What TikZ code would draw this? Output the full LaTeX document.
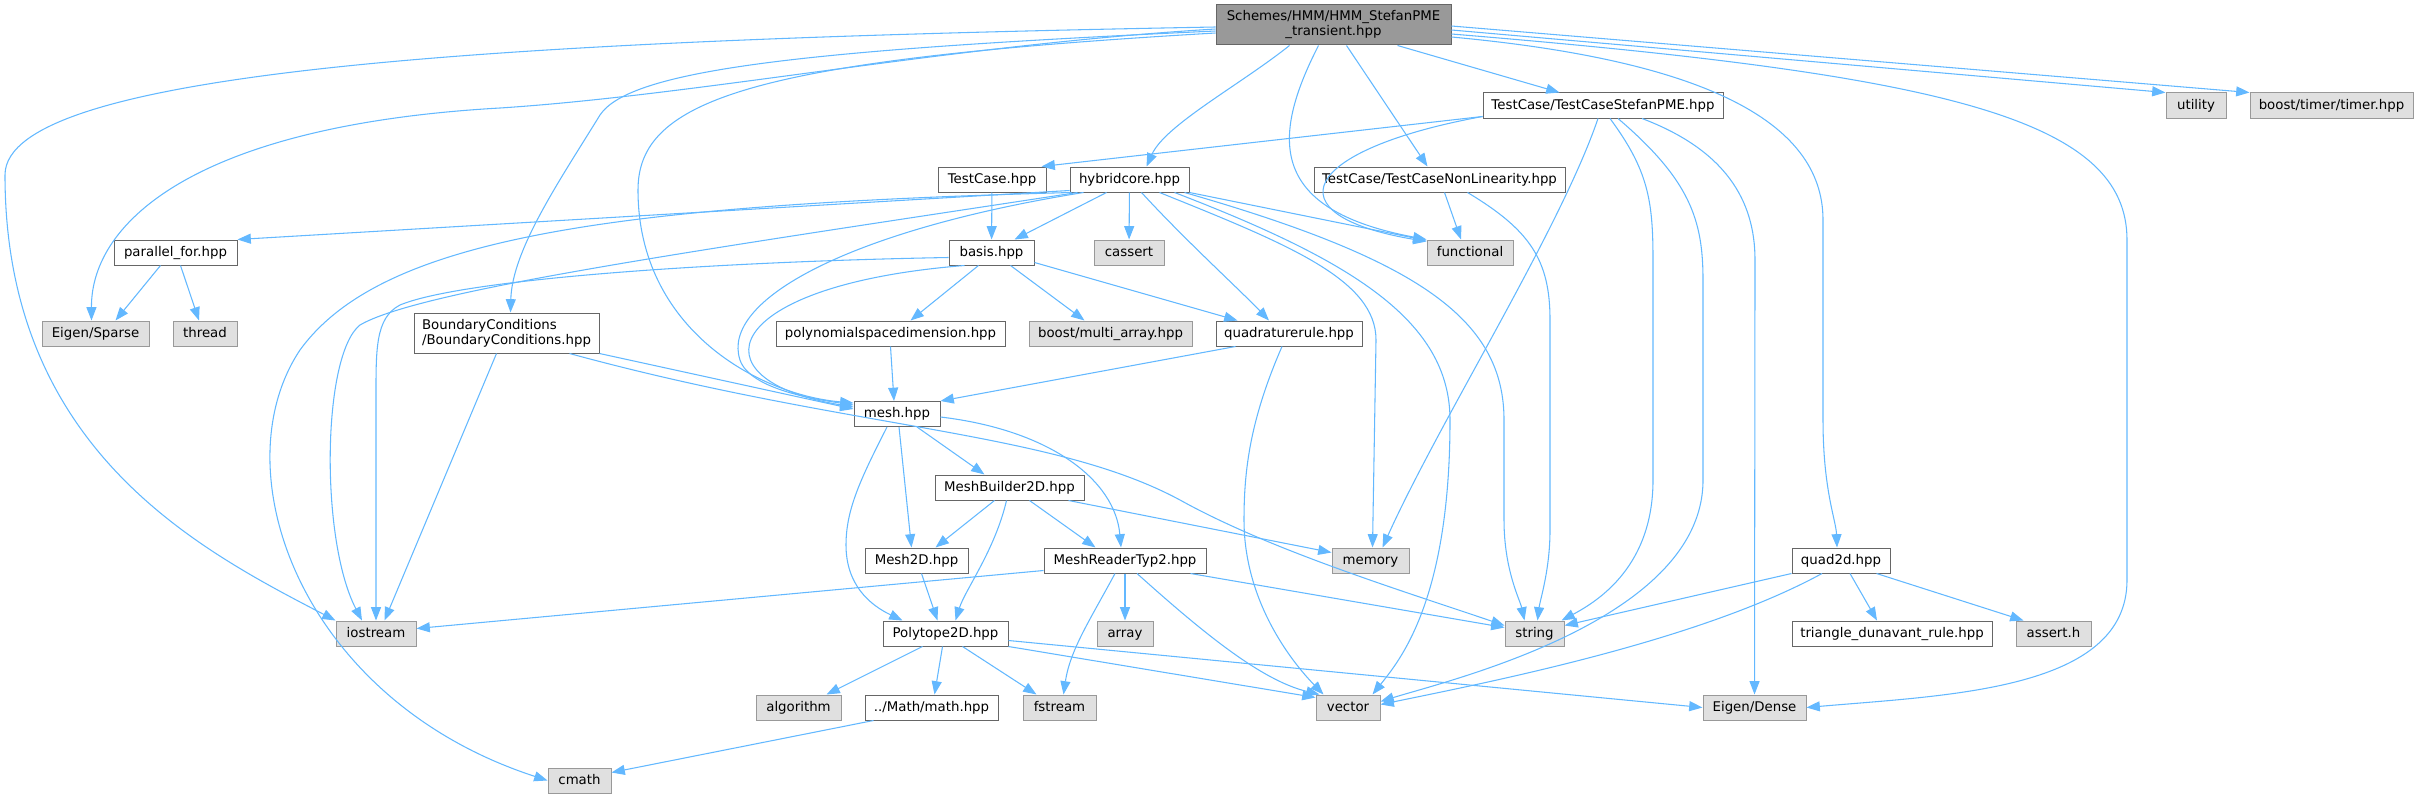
\documentclass[tikz,border=0pt]{standalone}
\usepackage{fontspec}
\newfontfamily\doxfont{DejaVu Sans}
\usetikzlibrary{calc,arrows.meta}
\definecolor{edgeblue}{HTML}{63B8FF}
\definecolor{frame}{HTML}{666666}
\definecolor{sysframe}{HTML}{999999}
\definecolor{sysfill}{HTML}{E0E0E0}
\definecolor{rootfill}{HTML}{999999}
\tikzset{
  hdr/.style={draw=frame,fill=white,line width=0.75pt,inner sep=0pt,
    minimum height=18.75pt,text height=7.4pt,text depth=2.1pt,
    font=\doxfont\fontsize{10}{11.25}\selectfont},
  syshdr/.style={hdr,draw=sysframe,fill=sysfill},
  twoline/.style={hdr,minimum height=30pt,text height={},text depth={}},
  roothdr/.style={twoline,fill=rootfill,align=center},
  dep/.style={draw=edgeblue,line width=0.8pt,-{Triangle[length=10pt,width=7.5pt]}}
}
\newcommand{\File}[5]{
  \node[#1,minimum width=#2*0.75pt] (#3) at (#4) {#5};
}

\begin{document}
\begin{tikzpicture}[x=0.75pt,y=-0.75pt]
  \useasboundingbox (0,0) rectangle (2419,799);
  % headers, one rank per row
  \File{roothdr}{235}{root}{1333.5,25}{Schemes/HMM/HMM\_StefanPME\\\_transient.hpp}
  \File{hdr}{240}{tcstefan}{1603,105.5}{TestCase/TestCaseStefanPME.hpp}
  \File{syshdr}{60}{utility}{2196,105.5}{utility}
  \File{syshdr}{163}{timer}{2331.5,105.5}{boost/timer/timer.hpp}
  \File{hdr}{108}{testcase}{992,179.5}{TestCase.hpp}
  \File{hdr}{119}{hybridcore}{1129.5,179.5}{hybridcore.hpp}
  \File{hdr}{251}{nonlin}{1439.5,179.5}{TestCase/TestCaseNonLinearity.hpp}
  \File{hdr}{123}{parallel}{175.5,252.5}{parallel\_for.hpp}
  \File{hdr}{85}{basis}{991.5,252.5}{basis.hpp}
  \File{syshdr}{70}{cassert}{1129,252.5}{cassert}
  \File{syshdr}{86}{functional}{1470,252.5}{functional}
  \File{syshdr}{107}{sparse}{95.5,333.5}{Eigen/Sparse}
  \File{syshdr}{64}{thread}{205,333.5}{thread}
  \File{twoline,align=left}{185}{bc}{506.5,333}{BoundaryConditions\\/BoundaryConditions.hpp}
  \File{hdr}{229}{polydim}{890.5,333.5}{polynomialspacedimension.hpp}
  \File{syshdr}{163}{multiarray}{1110.5,333.5}{boost/multi\_array.hpp}
  \File{hdr}{146}{quadrule}{1289,333.5}{quadraturerule.hpp}
  \File{hdr}{86}{mesh}{897,414}{mesh.hpp}
  \File{hdr}{149}{builder}{1009.5,487.5}{MeshBuilder2D.hpp}
  \File{hdr}{103}{mesh2d}{916.5,560.5}{Mesh2D.hpp}
  \File{hdr}{162}{reader}{1125,560.5}{MeshReaderTyp2.hpp}
  \File{syshdr}{77}{memory}{1370.5,560.5}{memory}
  \File{hdr}{98}{quad2d}{1841,560.5}{quad2d.hpp}
  \File{syshdr}{80}{iostream}{376,633.5}{iostream}
  \File{hdr}{125}{polytope}{945.5,633.5}{Polytope2D.hpp}
  \File{syshdr}{56}{array}{1125,633.5}{array}
  \File{syshdr}{59}{string}{1534.5,633.5}{string}
  \File{hdr}{200}{triangle}{1892,633.5}{triangle\_dunavant\_rule.hpp}
  \File{syshdr}{75}{asserth}{2053.5,633.5}{assert.h}
  \File{syshdr}{85}{algorithm}{798.5,707.5}{algorithm}
  \File{hdr}{133}{math}{931.5,707.5}{../Math/math.hpp}
  \File{syshdr}{73}{fstream}{1059.5,707.5}{fstream}
  \File{syshdr}{64}{vector}{1348,707.5}{vector}
  \File{syshdr}{103}{dense}{1754.5,707.5}{Eigen/Dense}
  \File{syshdr}{63}{cmath}{579.5,780.5}{cmath}

  % root
  \draw[dep] ($(root.west)+(0,2)$) .. controls (500,40) and (5,70) .. (5,175)
    .. controls (5,450) and (200,550) .. (iostream.north west);
  \draw[dep] ($(root.west)+(0,4)$) .. controls (950,45) and (700,95) .. (500,108)
    .. controls (200,125) and (91,220) .. ($(sparse.north)+(-4,0)$);
  \draw[dep] ($(root.west)+(0,6)$) .. controls (800,50) and (630,70) .. (600,115)
    .. controls (560,180) and (512,250) .. ($(bc.north)+(4,0)$);
  \draw[dep] ($(root.west)+(0,8)$) .. controls (750,60) and (638,100) .. (638,190)
    .. controls (638,330) and (760,395) .. ($(mesh.north west)+(0,2)$);
  \draw[dep] ($(root.south)+(-44,0)$) .. controls (1240,85) and (1165,125) .. ($(hybridcore.north)+(17,0)$);
  \draw[dep] ($(root.south)+(-15,0)$) .. controls (1270,140) and (1270,210) .. (functional.north west);
  \draw[dep] ($(root.south)+(13,0)$) -- ($(nonlin.north)+(-12,0)$);
  \draw[dep] ($(root.south east)+(-54,0)$) -- ($(tcstefan.north west)+(77,0)$);
  \draw[dep] ($(root.east)+(0,5)$) -- (utility.north west);
  \draw[dep] ($(root.east)+(0,1)$) -- (timer.north west);
  \draw[dep] ($(root.east)+(0,12)$) .. controls (1700,60) and (1823,120) .. (1823,220)
    -- (1823,420) .. controls (1823,490) and (1836,520) .. ($(quad2d.north)+(-4,0)$);
  \draw[dep] ($(root.east)+(0,9)$) .. controls (1950,75) and (2127,120) .. (2127,240)
    -- (2127,580) .. controls (2127,690) and (1950,695) .. (dense.east);

  % TestCaseStefanPME
  \draw[dep] ($(tcstefan.west)+(0,11)$) -- ($(testcase.north east)+(-5,0)$);
  \draw[dep] ($(tcstefan.west)+(0,11)$) .. controls (1300,150) and (1270,215) .. ($(functional.north west)+(0,2)$);
  \draw[dep] ($(tcstefan.south)+(-5,0)$) .. controls (1560,230) and (1440,420) .. ($(memory.north)+(12,0)$);
  \draw[dep] ($(tcstefan.south)+(7,0)$) .. controls (1648,170) and (1653,200) .. (1653,260)
    -- (1653,480) .. controls (1653,565) and (1600,600) .. ($(string.north east)+(-3,0)$);
  \draw[dep] ($(tcstefan.south)+(15,0)$) .. controls (1690,180) and (1703,220) .. (1703,280)
    -- (1703,480) .. controls (1703,620) and (1450,680) .. ($(vector.east)+(0,-6)$);
  \draw[dep] ($(tcstefan.south)+(39,0)$) .. controls (1725,150) and (1755,200) .. (1755,260) -- (dense.north);
  \draw[dep] (testcase) -- (basis);

  % hybridcore
  \draw[dep] ($(hybridcore.south west)+(0,-2)$) -- (parallel.north east);
  \draw[dep] ($(hybridcore.south west)+(2,0)$) .. controls (600,205) and (380,240) .. (300,350)
    .. controls (220,470) and (300,700) .. (cmath.west);
  \draw[dep] ($(hybridcore.south west)+(8,0)$) .. controls (700,250) and (420,290) .. (360,325)
    .. controls (322,355) and (320,540) .. ($(iostream.north)+(-14,0)$);
  \draw[dep] ($(hybridcore.south west)+(14,0)$) .. controls (850,230) and (720,300) .. (740,360)
    .. controls (750,390) and (820,400) .. ($(mesh.north west)+(0,4)$);
  \draw[dep] ($(hybridcore.south)+(-23,0)$) -- ($(basis.north east)+(-20,0)$);
  \draw[dep] (hybridcore) -- (cassert);
  \draw[dep] ($(hybridcore.south)+(12,0)$) .. controls (1185,240) and (1240,290) .. ($(quadrule.north)+(-20,0)$);
  \draw[dep] ($(hybridcore.south)+(30,0)$) .. controls (1290,245) and (1376,280) .. (1376,340)
    -- ($(memory.north)+(2,0)$);
  \draw[dep] ($(hybridcore.south east)+(-15,0)$) .. controls (1350,260) and (1450,320) .. (1450,420)
    .. controls (1450,600) and (1400,660) .. ($(vector.north east)+(-8,0)$);
  \draw[dep] ($(hybridcore.south east)+(-5,0)$) .. controls (1420,260) and (1504,320) .. (1504,420)
    -- (1504,520) .. controls (1504,570) and (1520,600) .. ($(string.north)+(-10,0)$);
  \draw[dep] (hybridcore.south east) -- ($(functional.north west)+(0,1)$);

  % TestCaseNonLinearity
  \draw[dep] ($(nonlin.south)+(5,0)$) -- ($(functional.north)+(-9,0)$);
  \draw[dep] ($(nonlin.south)+(28,0)$) .. controls (1530,230) and (1550,260) .. (1550,320)
    -- (1550,530) .. controls (1550,570) and (1540,600) .. ($(string.north)+(3,0)$);

  % basis, parallel_for, BoundaryConditions
  \draw[dep] ($(basis.west)+(0,5)$) .. controls (700,262) and (460,280) .. (400,305)
    .. controls (375,318) and (376,350) .. (376,400) -- (iostream.north);
  \draw[dep] ($(basis.south west)+(16,0)$) .. controls (720,285) and (690,380) .. ($(mesh.north west)+(0,6)$);
  \draw[dep] ($(basis.south)+(-13,0)$) -- ($(polydim.north)+(20,0)$);
  \draw[dep] ($(basis.south east)+(-24,0)$) -- ($(multiarray.north)+(-26,0)$);
  \draw[dep] ($(basis.south east)+(0,-3)$) -- ($(quadrule.north west)+(22,0)$);
  \draw[dep] ($(parallel.south)+(-15,0)$) -- ($(sparse.north)+(20,0)$);
  \draw[dep] ($(parallel.south)+(5,0)$) -- ($(thread.north)+(-6,0)$);
  \draw[dep] ($(bc.south)+(-10,0)$) -- ($(iostream.north east)+(-32,0)$);
  \draw[dep] (bc.south east) -- ($(mesh.north west)+(0,8)$);
  \draw[dep] ($(bc.south east)+(-30,0)$) .. controls (850,430) and (1050,430) .. (1180,500)
    .. controls (1270,550) and (1400,590) .. ($(string.north west)+(0,5)$);
  \draw[dep] (polydim.south) -- ($(mesh.north)+(-3,0)$);
  \draw[dep] ($(quadrule.south west)+(20,0)$) -- (mesh.north east);
  \draw[dep] ($(quadrule.south)+(-7,0)$) .. controls (1250,420) and (1244,470) .. (1244,520)
    .. controls (1244,600) and (1290,660) .. ($(vector.north west)+(8,0)$);

  % mesh and friends
  \draw[dep] ($(mesh.south)+(20,0)$) -- ($(builder.north)+(-25,0)$);
  \draw[dep] ($(mesh.south)+(2,0)$) -- ($(mesh2d.north)+(-5,0)$);
  \draw[dep] ($(mesh.south)+(-10,0)$) .. controls (860,480) and (846,510) .. (846,545)
    .. controls (846,585) and (870,605) .. ($(polytope.north west)+(20,0)$);
  \draw[dep] ($(mesh.east)+(0,3)$) .. controls (1050,430) and (1115,480) .. ($(reader.north)+(-4,0)$);
  \draw[dep] ($(builder.south)+(-15,0)$) -- ($(mesh2d.north east)+(-33,0)$);
  \draw[dep] ($(builder.south)+(-3,0)$) .. controls (995,550) and (965,590) .. ($(polytope.north)+(10,0)$);
  \draw[dep] ($(builder.south)+(20,0)$) -- ($(reader.north west)+(52,0)$);
  \draw[dep] ($(builder.south east)+(-16,0)$) -- ($(memory.west)+(0,-8)$);
  \draw[dep] ($(mesh2d.south)+(5,0)$) -- ($(polytope.north)+(-8,0)$);

  % MeshReaderTyp2
  \draw[dep] ($(reader.west)+(0,10)$) -- ($(iostream.east)+(0,-5)$);
  \draw[dep] (reader) -- (array);
  \draw[dep] ($(reader.south)+(-10,0)$) .. controls (1090,620) and (1070,650) .. ($(fstream.north)+(4,0)$);
  \draw[dep] ($(reader.south)+(12,0)$) .. controls (1200,630) and (1260,680) .. ($(vector.north west)+(4,0)$);
  \draw[dep] ($(reader.south east)+(-16,0)$) -- ($(string.west)+(0,-6)$);

  % Polytope2D, math, quad2d
  \draw[dep] ($(polytope.south)+(-23,0)$) -- ($(algorithm.north east)+(-15,0)$);
  \draw[dep] ($(polytope.south)+(-3,0)$) -- ($(math.north)+(3,0)$);
  \draw[dep] ($(polytope.south)+(17,0)$) -- ($(fstream.north west)+(14,0)$);
  \draw[dep] (polytope.south east) -- ($(vector.west)+(0,-10)$);
  \draw[dep] ($(polytope.east)+(0,7)$) -- (dense.west);
  \draw[dep] ($(math.south west)+(9,0)$) -- ($(cmath.east)+(0,-8)$);
  \draw[dep] (quad2d.south west) -- ($(string.east)+(0,-8)$);
  \draw[dep] ($(quad2d.south)+(-19,0)$) .. controls (1700,640) and (1500,680) .. ($(vector.east)+(0,-3)$);
  \draw[dep] ($(quad2d.south)+(9,0)$) -- ($(triangle.north)+(-15,0)$);
  \draw[dep] ($(quad2d.south east)+(-14,0)$) -- ($(asserth.north west)+(8,0)$);
\end{tikzpicture}
\end{document}
